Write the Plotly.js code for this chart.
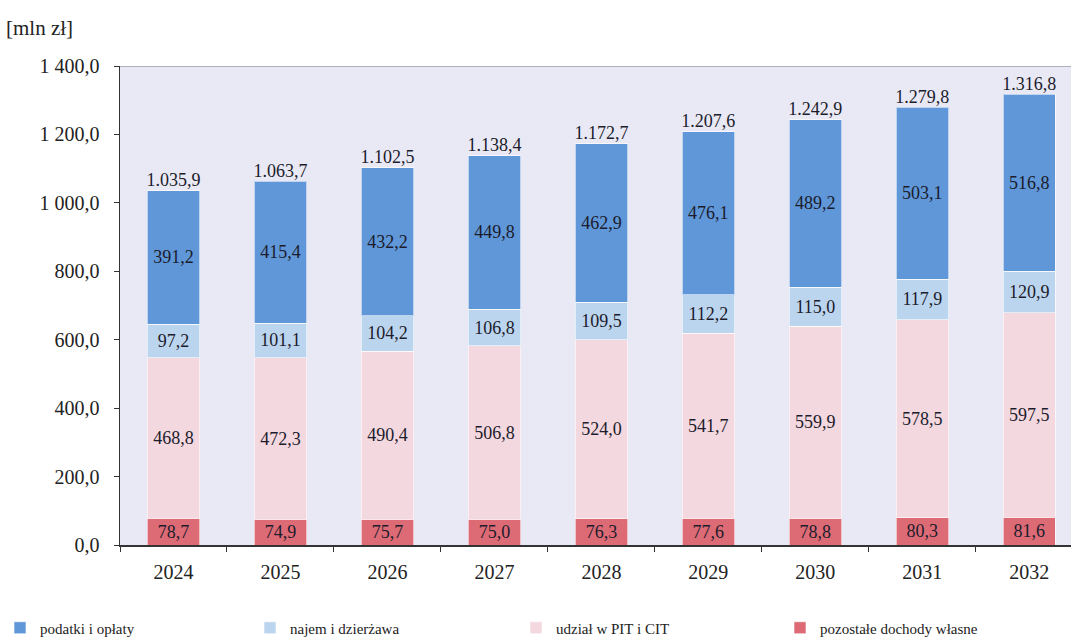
<!DOCTYPE html>
<html>
<head>
<meta charset="utf-8">
<script src="https://cdn.plot.ly/plotly-3.0.1.min.js"></script>
<style>html,body{margin:0;padding:0;background:#fff;}#chart{width:1071px;height:644px;}</style>
</head>
<body>
<div id="chart"></div>
<script>
const years = ['2024','2025','2026','2027','2028','2029','2030','2031','2032'];
const pozostale = [78.7, 74.9, 75.7, 75.0, 76.3, 77.6, 78.8, 80.3, 81.6];
const udzial = [468.8, 472.3, 490.4, 506.8, 524.0, 541.7, 559.9, 578.5, 597.5];
const najem = [97.2, 101.1, 104.2, 106.8, 109.5, 112.2, 115.0, 117.9, 120.9];
const podatki = [391.2, 415.4, 432.2, 449.8, 462.9, 476.1, 489.2, 503.1, 516.8];
const totals = [1035.9, 1063.7, 1102.5, 1138.4, 1172.7, 1207.6, 1242.9, 1279.8, 1316.8];
const yTicks = [0, 200, 400, 600, 800, 1000, 1200, 1400];
const yTickText = ['0,0','200,0','400,0','600,0','800,0','1 000,0','1 200,0','1 400,0'];

const fmt = v => v.toFixed(1).replace('.', ',');
const fmtTotal = v => {
  const s = v.toFixed(1).split('.');
  const int = s[0].replace(/\B(?=(\d{3})+(?!\d))/g, '.');
  return int + ',' + s[1];
};
const font = 'Liberation Serif, Times New Roman, serif';
const txtFont = {family: font, size: 18, color: '#1c1c2c'};

function barTrace(name, vals, color, legendId) {
  return {
    type: 'bar', name: name, x: years, y: vals, legend: legendId,
    marker: {color: color, line: {color: 'rgba(255,255,255,0.6)', width: 1}},
    width: 0.49,
    text: vals.map(fmt), textposition: 'inside', insidetextanchor: 'middle',
    textangle: 0, constraintext: 'none',
    textfont: txtFont, hoverinfo: 'y+name'
  };
}

const data = [
  barTrace('pozostałe dochody własne', pozostale, '#dc6b76', 'legend4'),
  barTrace('udział w PIT i CIT', udzial, '#f4d8df', 'legend3'),
  barTrace('najem i dzierżawa', najem, '#bcd5ee', 'legend2'),
  barTrace('podatki i opłaty', podatki, '#5f97d8', 'legend'),
  {
    type: 'scatter', mode: 'text', x: years, y: totals,
    text: totals.map(fmtTotal), textposition: 'top center',
    textfont: txtFont, showlegend: false, hoverinfo: 'skip', cliponaxis: false
  }
];

function legendAt(px) {
  return {
    orientation: 'h', xref: 'container', yref: 'container',
    x: px / 1071, xanchor: 'left', y: 1 - 628 / 644, yanchor: 'middle',
    font: {family: font, size: 15, color: '#222'},
    itemwidth: 30, bgcolor: 'rgba(0,0,0,0)'
  };
}

const layout = {
  width: 1071, height: 644,
  margin: {l: 120, r: 0, t: 66, b: 99, autoexpand: false},
  barmode: 'stack',
  paper_bgcolor: '#ffffff',
  plot_bgcolor: '#e9e9f5',
  font: {family: font, size: 20, color: '#222'},
  xaxis: {
    type: 'category', range: [-0.5, 8.39], automargin: false,
    showline: true, linecolor: '#333', linewidth: 1.5,
    ticks: 'outside', tickson: 'boundaries', ticklen: 5, tickcolor: '#333',
    tickfont: {family: font, size: 20, color: '#222'},
    showgrid: false, ticklabelstandoff: 8
  },
  yaxis: {
    range: [0, 1400], tickvals: yTicks, ticktext: yTickText, automargin: false,
    showline: true, linecolor: '#333', linewidth: 1.5,
    ticks: 'outside', ticklen: 5, tickcolor: '#333',
    tickfont: {family: font, size: 20, color: '#222'},
    showgrid: false, zeroline: false, ticklabelstandoff: 10
  },
  shapes: [{type: 'line', xref: 'paper', yref: 'y', x0: 0, x1: 1, y0: 1400, y1: 1400,
            line: {color: '#9a9aa8', width: 1.5}}],
  annotations: [{
    text: '[mln zł]', xref: 'paper', yref: 'paper', x: -0.122, y: 1.079,
    xanchor: 'left', yanchor: 'middle', showarrow: false,
    font: {family: font, size: 21, color: '#222'}
  }],
  legend: legendAt(-14),
  legend2: legendAt(250),
  legend3: legendAt(516),
  legend4: legendAt(780),
  bargap: 0.5
};

Plotly.newPlot('chart', data, layout, {displayModeBar: false, staticPlot: true});
</script>
</body>
</html>
